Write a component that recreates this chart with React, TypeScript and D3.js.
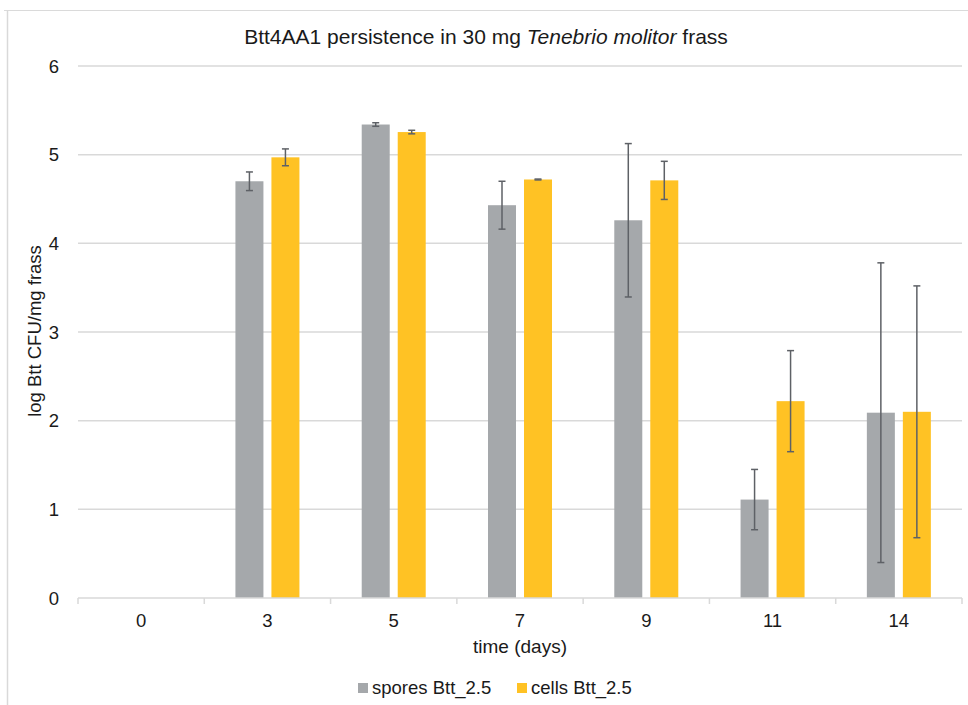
import React from "react";
import * as d3 from "d3";

const categories = ["0", "3", "5", "7", "9", "11", "14"];
const seriesNames = ["spores Btt_2.5", "cells Btt_2.5"];
const sporesValues = [0, 4.70, 5.34, 4.43, 4.26, 1.11, 2.09];
const sporesErrors = [0, 0.105, 0.02, 0.27, 0.865, 0.34, 1.69];
const cellsValues = [0, 4.97, 5.255, 4.72, 4.71, 2.22, 2.10];
const cellsErrors = [0, 0.095, 0.02, 0.005, 0.215, 0.57, 1.42];
const yTicks = [0, 1, 2, 3, 4, 5, 6];
const colors = ["#A5A8AB", "#FFC224"];

const W = 968;
const H = 705;
const left = 78;
const right = 962;
const top = 66;
const bottom = 598;

export default function App() {
  const x = d3.scaleBand<string>().domain(categories).range([left, right]).padding(0);
  const y = d3.scaleLinear().domain([0, 6]).range([bottom, top]);
  const barW = 28;
  const gap = 4;
  const series = [
    { name: seriesNames[0], values: sporesValues, errors: sporesErrors, color: colors[0], off: -gap - barW },
    { name: seriesNames[1], values: cellsValues, errors: cellsErrors, color: colors[1], off: gap },
  ];
  const font = "'Liberation Sans', Arial, sans-serif";
  const boundaries = categories.map((c) => x(c)!).concat([right]);
  const textColor = "#1a1a1a";

  return (
    <svg
      width={W}
      height={H}
      style={{ position: "absolute", left: 0, top: 0 }}
      fontFamily={font}
    >
      <rect x={0} y={0} width={W} height={H} fill="#fff" />
      <line x1={4} x2={W} y1={10.5} y2={10.5} stroke="#dadada" strokeWidth={1} />
      <line x1={7.5} x2={7.5} y1={10} y2={H} stroke="#d9d9d9" strokeWidth={1.5} />

      <text x={486} y={44} textAnchor="middle" fontSize={21} fill={textColor}>
        Btt4AA1 persistence in 30 mg <tspan fontStyle="italic">Tenebrio molitor</tspan> frass
      </text>

      {yTicks.map((t) => (
        <g key={t}>
          {t > 0 && (
            <line x1={left} x2={right} y1={y(t)} y2={y(t)} stroke="#d9d9d9" strokeWidth={1.5} />
          )}
          <text x={59} y={y(t) + 6.5} textAnchor="end" fontSize={18.5} fill={textColor}>
            {t}
          </text>
        </g>
      ))}

      {series.map((s) =>
        categories.map((c, i) => {
          const v = s.values[i];
          if (v <= 0) return null;
          const cx = x(c)! + x.bandwidth() / 2;
          const bx = cx + s.off;
          return (
            <rect key={s.name + c} x={bx} y={y(v)} width={barW} height={y(0) - y(v)} fill={s.color} />
          );
        })
      )}

      <line x1={left} x2={right} y1={bottom} y2={bottom} stroke="#d9d9d9" strokeWidth={1.5} />
      {boundaries.map((b, i) => (
        <line key={i} x1={b} x2={b} y1={bottom} y2={bottom + 6} stroke="#d9d9d9" strokeWidth={1.5} />
      ))}

      {series.map((s) =>
        categories.map((c, i) => {
          const v = s.values[i];
          const e = s.errors[i];
          if (v <= 0) return null;
          const cx = x(c)! + x.bandwidth() / 2 + s.off + barW / 2;
          const y1 = y(v + e);
          const y2 = y(v - e);
          return (
            <g key={"e" + s.name + c} stroke="#5e6166" strokeWidth={1.5}>
              <line x1={cx} x2={cx} y1={y1} y2={y2} />
              <line x1={cx - 3.5} x2={cx + 3.5} y1={y1} y2={y1} />
              <line x1={cx - 3.5} x2={cx + 3.5} y1={y2} y2={y2} />
            </g>
          );
        })
      )}

      {categories.map((c) => (
        <text key={c} x={x(c)! + x.bandwidth() / 2} y={627} textAnchor="middle" fontSize={18.5} fill={textColor}>
          {c}
        </text>
      ))}

      <text x={(left + right) / 2} y={653} textAnchor="middle" fontSize={19} fill={textColor}>
        time (days)
      </text>

      <text
        transform={`translate(41, 331) rotate(-90)`}
        textAnchor="middle"
        fontSize={18.5}
        fill={textColor}
      >
        log Btt CFU/mg frass
      </text>

      <rect x={358} y={683} width={10} height={10} fill={colors[0]} />
      <text x={372} y={694} fontSize={18.5} fill={textColor}>{seriesNames[0]}</text>
      <rect x={517} y={683} width={10} height={10} fill={colors[1]} />
      <text x={531} y={694} fontSize={18.5} fill={textColor}>{seriesNames[1]}</text>
    </svg>
  );
}
